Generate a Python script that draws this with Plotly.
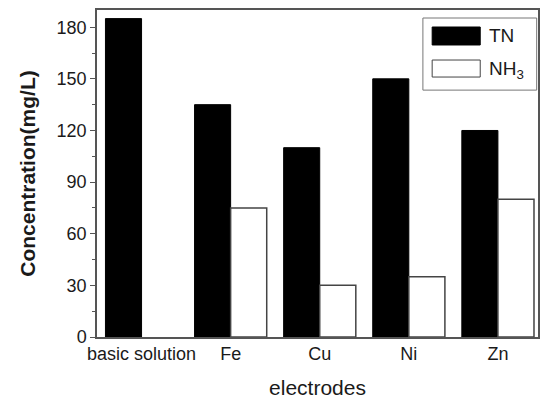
import plotly.graph_objects as go

# Electrode categories and measured concentrations (mg/L)
electrodes = ["basic solution", "Fe", "Cu", "Ni", "Zn"]
tn_values = [185, 135, 110, 150, 120]
nh3_values = [None, 75, 30, 35, 80]
y_ticks = [0, 30, 60, 90, 120, 150, 180]

positions = list(range(len(electrodes)))
font_family = "Liberation Sans, Arial, sans-serif"
frame_color = "#555555"
text_color = "#1a1a1a"

fig = go.Figure()
fig.add_trace(go.Bar(
    x=positions, y=tn_values, name="TN",
    marker=dict(color="black", line=dict(color="black", width=1)),
))
fig.add_trace(go.Bar(
    x=positions, y=nh3_values, name="NH<sub>3</sub>",
    marker=dict(color="white", line=dict(color="#444444", width=1.5)),
))

fig.update_layout(
    width=542, height=399,
    margin=dict(l=97, r=4, t=10, b=62),
    barmode="group", bargap=0.19, bargroupgap=0,
    plot_bgcolor="white", paper_bgcolor="white",
    showlegend=False,
    font=dict(family=font_family, size=18, color=text_color),
)

fig.update_xaxes(
    range=[-0.5, 4.45], automargin=False,
    tickmode="array", tickvals=positions, ticktext=electrodes,
    ticks="", showgrid=False, zeroline=False,
    showline=True, linecolor=frame_color, linewidth=1.5, mirror=True,
    tickfont=dict(size=18, color=text_color),
    title=dict(text="electrodes", font=dict(size=21, color=text_color), standoff=19),
)
fig.update_yaxes(
    range=[0, 190], automargin=False,
    tickmode="array", tickvals=y_ticks,
    ticks="outside", ticklen=5, tickwidth=1, tickcolor=frame_color,
    minor=dict(dtick=15, tick0=0, ticks="outside", ticklen=3, tickcolor=frame_color),
    showgrid=False, zeroline=False,
    showline=True, linecolor=frame_color, linewidth=1.5, mirror=True,
    tickfont=dict(size=18, color=text_color),
    title=dict(text="<b>Concentration(mg/L)</b>", font=dict(size=21, color=text_color), standoff=15),
)

# Legend box with large swatches
fig.add_shape(type="rect", xref="paper", yref="paper",
              x0=0.739, x1=0.997, y0=0.755, y1=0.9755,
              line=dict(color="#777777", width=1), fillcolor="white")
fig.add_shape(type="rect", xref="paper", yref="paper",
              x0=0.760, x1=0.869, y0=0.893, y1=0.948,
              line=dict(color="black", width=1), fillcolor="black")
fig.add_shape(type="rect", xref="paper", yref="paper",
              x0=0.760, x1=0.869, y0=0.795, y1=0.847,
              line=dict(color="#444444", width=1), fillcolor="white")
fig.add_annotation(xref="paper", yref="paper", x=0.885, y=0.922,
                   text="TN", showarrow=False, xanchor="left", yanchor="middle",
                   font=dict(size=19, color=text_color))
fig.add_annotation(xref="paper", yref="paper", x=0.885, y=0.815,
                   text="NH<sub>3</sub>", showarrow=False, xanchor="left", yanchor="middle",
                   font=dict(size=19, color=text_color))

fig.write_html("out.html")
